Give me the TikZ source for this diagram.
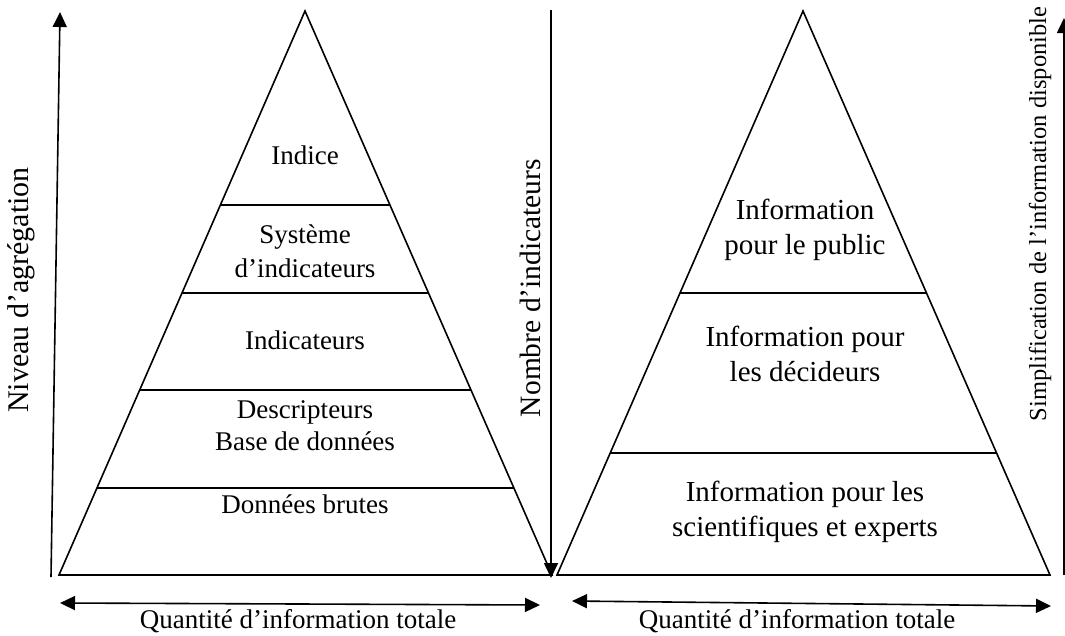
\documentclass[tikz,border=0pt]{standalone}
\usepackage{fontspec}
\setmainfont{Liberation Serif}
\usetikzlibrary{arrows.meta,calc}
\tikzset{
  pyr/.style={line width=1.6pt,line join=miter},
  axis/.style={line width=1.6pt,-{Triangle[length=15pt,width=14pt]}},
  span/.style={line width=1.6pt,{Triangle[length=15pt,width=14pt]}-{Triangle[length=15pt,width=14pt]}},
  lbl/.style={font=\fontsize{27}{32}\selectfont,align=center,inner sep=0pt},
  big/.style={lbl,font=\fontsize{29}{35}\selectfont},
  side/.style={lbl,rotate=90}
}
\begin{document}
\begin{tikzpicture}[x=1pt,y=-1pt]
\useasboundingbox (0,0) rectangle (1065,635);
% left pyramid
\coordinate (la) at (305,11);
\coordinate (lb) at (59,575);
\coordinate (lc) at (552,575);
\draw[pyr] (la) -- (lb) -- (lc) -- cycle;
\foreach \t in {0.344,0.5,0.672,0.846}
  \draw[pyr] ($(la)!\t!(lb)$) -- ($(la)!\t!(lc)$);
% right pyramid
\coordinate (ra) at (803,11);
\coordinate (rb) at (557,575);
\coordinate (rc) at (1050,575);
\draw[pyr] (ra) -- (rb) -- (rc) -- cycle;
\foreach \t in {0.5,0.784}
  \draw[pyr] ($(ra)!\t!(rb)$) -- ($(ra)!\t!(rc)$);
% levels
\node[lbl] (indice) at (305,155) {Indice};
\node[lbl] (systeme) at (305,251) {Système\\[2pt]d'indicateurs};
\node[lbl] (indic) at (305,340) {Indicateurs};
\node[lbl] (descr) at (305,426) {Descripteurs\\Base de données};
\node[lbl] (brutes) at (305,504) {Données brutes};
\node[big] (public) at (805,230) {Information\\pour le public};
\node[big] (decid) at (805,354) {Information pour\\les décideurs};
\node[big] (scient) at (805,512) {Information pour les\\scientifiques et experts};
% axes
\coordinate (l0) at (51,577);
\coordinate (l1) at (60,12);
\coordinate (m0) at (551,10);
\coordinate (m1) at (551,578);
\coordinate (r0) at (1064,575);
\coordinate (r1) at (1064,18);
\draw[axis] (l0) -- (l1);
\draw[axis] (m0) -- (m1);
\draw[axis] (r0) -- (r1);
\coordinate (b0) at (60,603);
\coordinate (b1) at (540,605);
\coordinate (b2) at (572,601);
\coordinate (b3) at (1051,606);
\draw[span] (b0) -- (b1);
\draw[span] (b2) -- (b3);
\node[side,font=\fontsize{30}{36}\selectfont] (niveau) at (21,290) {Niveau d'agrégation};
\node[side,font=\fontsize{29.5}{36}\selectfont] (nombre) at (530,288) {Nombre d'indicateurs};
\node[side,font=\fontsize{24.5}{30}\selectfont] (simpl) at (1040,214) {Simplification de l'information disponible};
\node[lbl] (qtg) at (298,621) {Quantité d'information totale};
\node[lbl] (qtd) at (797,621) {Quantité d'information totale};
\end{tikzpicture}
\end{document}
